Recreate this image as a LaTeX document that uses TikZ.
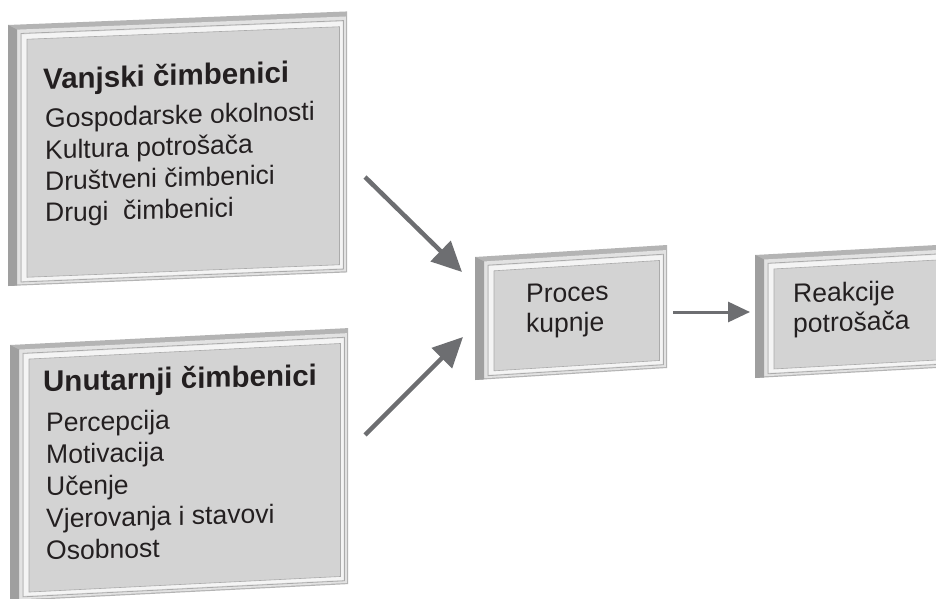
\documentclass[tikz,border=0pt]{standalone}
\usepackage{fontspec}
\setmainfont{Liberation Sans}
\usetikzlibrary{arrows.meta}
\definecolor{facec}{HTML}{D3D3D3}
\definecolor{topc}{HTML}{B4B4B4}
\definecolor{leftc}{HTML}{9F9F9F}
\definecolor{framec}{HTML}{E2E2E2}
\definecolor{hic}{HTML}{F4F4F4}
\definecolor{linec}{HTML}{ABABAB}
\definecolor{txtc}{HTML}{231F20}
\definecolor{arrc}{HTML}{6D6E71}
\newcommand\ttlfont{\fontsize{29.5}{31}\selectfont\bfseries}
\newcommand\bodyfont{\fontsize{26.5}{31}\selectfont}
\tikzset{
  boxtext/.style={anchor=base west, inner sep=0pt, text=txtc},
  flow/.style={draw=arrc, line width=4.5pt, -{Triangle[length=30pt,width=28pt]}},
  flowsmall/.style={draw=arrc, line width=3pt, -{Triangle[length=22pt,width=20pt]}},
}
\newcommand\bevbox[2]{%
  \fill[topc] (0,0) rectangle (#1,#2);
  \fill[framec] (9,5) rectangle ({#1-1.2},{#2-1.2});
  \fill[leftc] (0,0) -- (9,5) -- (9,#2) -- (0,#2) -- cycle;
  \draw[linec, line width=0.8pt] (13,9) rectangle ({#1-3.5},{#2-3.5});
  \fill[hic] (14,10) rectangle ({#1-4.5},{#2-4.5});
  \fill[facec] (19,15) rectangle ({#1-7.5},{#2-8});
  \draw[linec, line width=0.6pt] (19,15) rectangle ({#1-7.5},{#2-8});
}
\begin{document}
\begin{tikzpicture}[x=1pt, y=-1pt]
\useasboundingbox (0,0) rectangle (936,599);
\clip (0,0) rectangle (936,599);
\fill[white] (0,0) rectangle (936,599);

% Box shapes (slight perspective)
\begin{scope}[shift={(8,25)}, yslant=0.04]
  \bevbox{339}{261}
\end{scope}
\begin{scope}[shift={(10,345)}, yslant=0.05]
  \bevbox{338}{256}
\end{scope}
\begin{scope}[shift={(475,257)}, yslant=0.0625]
  \bevbox{192}{123}
\end{scope}
\begin{scope}[shift={(755,255)}, yslant=0.055]
  \bevbox{200}{123}
\end{scope}

% Texts
\node[boxtext, yslant=0.028] (ext) at (43,89.5) {\vtop{\baselineskip=31.3pt
    \hbox{\ttlfont Vanjski čimbenici}\vskip 7.2pt
    \hbox{\bodyfont\kern2pt Gospodarske okolnosti}
    \hbox{\bodyfont\kern2pt Kultura potrošača}
    \hbox{\bodyfont\kern2pt Društveni čimbenici}
    \hbox{\bodyfont\kern2pt Drugi\ \ čimbenici}}};
\node[boxtext, yslant=0.022] (int) at (43,391.5) {\vtop{\baselineskip=32pt
    \hbox{\ttlfont Unutarnji čimbenici}\vskip 8.5pt
    \hbox{\bodyfont\kern3pt Percepcija}
    \hbox{\bodyfont\kern3pt Motivacija}
    \hbox{\bodyfont\kern3pt Učenje}
    \hbox{\bodyfont\kern3pt Vjerovanja i stavovi}
    \hbox{\bodyfont\kern3pt Osobnost}}};
\node[boxtext, yslant=0.03] (proc) at (526,303) {\vtop{\baselineskip=30pt
    \hbox{\bodyfont Proces}
    \hbox{\bodyfont kupnje}}};
\node[boxtext, yslant=0.03] (react) at (793,303) {\vtop{\baselineskip=30pt
    \hbox{\bodyfont Reakcije}
    \hbox{\bodyfont potrošača}}};

% Connectors
\coordinate (s1) at (365,177);
\coordinate (s2) at (365,435);
\coordinate (pin1) at (462,272);
\coordinate (pin2) at (463,337);
\coordinate (pout) at (673,312);
\coordinate (rin) at (750,312);
\draw[flow] (s1) -- (pin1);
\draw[flow] (s2) -- (pin2);
\draw[flowsmall] (pout) -- (rin);
\end{tikzpicture}
\end{document}
